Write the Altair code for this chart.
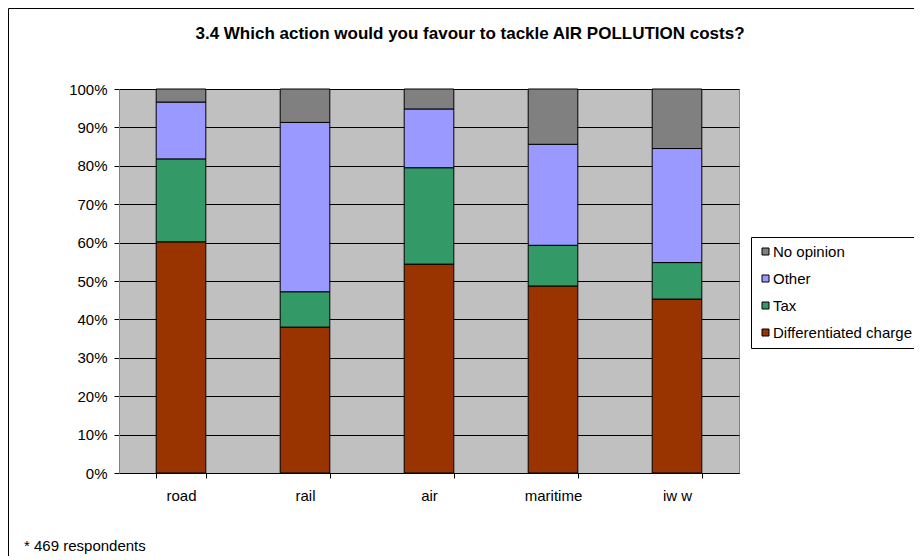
import altair as alt
import pandas as pd

categories = ["road", "rail", "air", "maritime", "iw w"]
series = ["Differentiated charge", "Tax", "Other", "No opinion"]
diff_charge = [60.2, 38.0, 54.4, 48.7, 45.3]
tax = [21.6, 9.2, 25.1, 10.6, 9.5]
other = [14.8, 44.1, 15.3, 26.3, 29.7]
no_opinion = [3.4, 8.7, 5.2, 14.4, 15.5]
legend_order = ["No opinion", "Other", "Tax", "Differentiated charge"]
legend_colors = ["#808080", "#9999FF", "#339966", "#993300"]
y_ticks = [0.0, 0.1, 0.2, 0.3, 0.4, 0.5, 0.6, 0.7, 0.8, 0.9, 1.0]
title_text = "3.4 Which action would you favour to tackle AIR POLLUTION costs?"
footnote_text = "* 469 respondents"

rows = []
for s_i, (name, vals) in enumerate(zip(series, [diff_charge, tax, other, no_opinion])):
    for c, v in zip(categories, vals):
        rows.append({"mode": c, "action": name, "share": v, "stackorder": s_i})
df = pd.DataFrame(rows)

FONT = "Liberation Sans"
W, H = 620, 384

bars = alt.Chart(df).mark_bar(stroke="black", strokeWidth=1).encode(
    x=alt.X(
        "mode:N",
        sort=categories,
        title=None,
        scale=alt.Scale(paddingInner=0.6, paddingOuter=0.3),
        axis=alt.Axis(labelAngle=0, tickBand="extent", tickSize=5, labelPadding=10,
                      grid=False, domainColor="black"),
    ),
    y=alt.Y(
        "share:Q",
        stack="normalize",
        title=None,
        scale=alt.Scale(domain=[0, 1], nice=False),
        axis=alt.Axis(format=".0%", values=y_ticks, grid=True, gridColor="black",
                      gridOpacity=1, tickSize=5, labelPadding=7, domainColor="#808080"),
    ),
    color=alt.Color(
        "action:N",
        scale=alt.Scale(domain=legend_order, range=legend_colors),
        legend=alt.Legend(
            title=None,
            orient="none",
            legendX=632,
            legendY=148,
            symbolType="square",
            symbolSize=49,
            symbolStrokeColor="black",
            symbolStrokeWidth=1,
            symbolOpacity=1,
            labelFont=FONT,
            labelFontSize=15,
            labelColor="black",
            labelOffset=0,
            labelLimit=300,
            rowPadding=11,
            padding=7,
            strokeColor="black",
            fillColor="white",
        ),
    ),
    order=alt.Order("stackorder:Q", sort="ascending"),
)

one = pd.DataFrame({"k": [0]})
frame = alt.Chart(one).mark_rect(fillOpacity=0, stroke="black", strokeWidth=1).encode(
    x=alt.value(-110.5), x2=alt.value(900), y=alt.value(-80.5), y2=alt.value(700)
)
foot = alt.Chart(one).mark_text(align="left", baseline="alphabetic", font=FONT, fontSize=15,
                                color="black").encode(
    x=alt.value(-95), y=alt.value(462), text=alt.value(footnote_text)
)

chart = alt.layer(bars, frame, foot).properties(
    width=W,
    height=H,
    autosize=alt.AutoSizeParams(type="none"),
    padding={"left": 111, "top": 81, "right": 175, "bottom": 83},
    title=alt.TitleParams(title_text, font=FONT, fontSize=17, fontWeight="bold",
                          anchor="middle", frame="group", baseline="alphabetic",
                          dx=41, offset=-48, color="black"),
).configure_view(fill="#C0C0C0", stroke="#808080").configure_axis(
    labelFont=FONT, labelFontSize=15, labelColor="black", tickColor="black"
)

chart.save("out.html", embed_options={"renderer": "svg", "actions": False})
